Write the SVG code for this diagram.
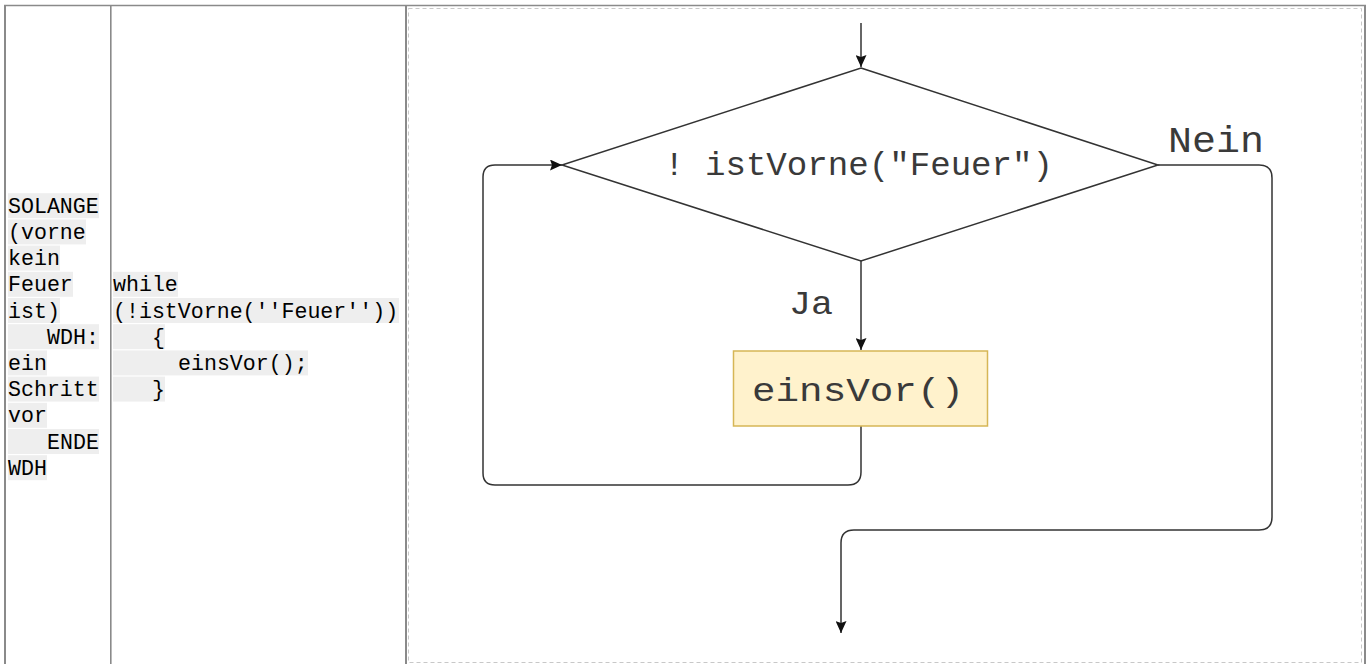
<svg xmlns="http://www.w3.org/2000/svg" width="1369" height="664" viewBox="0 0 1369 664">
<style>
.tbl{stroke:#8a8a8a;fill:none}
.hl{fill:#eeeeee}
.code{font-family:"Liberation Mono","DejaVu Sans Mono",monospace;font-size:21.6px;fill:#000}
.fc{font-family:"Liberation Mono","DejaVu Sans Mono",monospace;fill:#3a3a3a}
.edge{fill:none;stroke:#333;stroke-width:1.5}
</style>
<defs>
<marker id="arr" viewBox="0 0 12 11" refX="12" refY="5.5" markerWidth="12" markerHeight="11" markerUnits="userSpaceOnUse" orient="auto">
<path d="M0,0 L12,5.5 L0,11 L2,5.5 Z" fill="#111"/>
</marker>
</defs>
<rect width="1369" height="664" fill="#fff"/>
<g id="table">
<line class="tbl" x1="4" y1="5.5" x2="1366" y2="5.5" stroke-width="1.6"/>
<line class="tbl" x1="5" y1="5" x2="5" y2="664" stroke-width="2"/>
<line class="tbl" x1="110.8" y1="5" x2="110.8" y2="664" stroke-width="1.6"/>
<line class="tbl" x1="406" y1="5" x2="406" y2="664" stroke-width="2"/>
<line class="tbl" x1="1365" y1="5" x2="1365" y2="664" stroke-width="2"/>
<rect x="408.5" y="8.5" width="953" height="654" fill="none" stroke="#c8c8c8" stroke-width="1" stroke-dasharray="4 3"/>
</g>
<g id="pseudocode">
<rect class="hl" x="8" y="193.2" width="91" height="25"/>
<rect class="hl" x="8" y="219.4" width="78" height="25"/>
<rect class="hl" x="8" y="245.6" width="52" height="25"/>
<rect class="hl" x="8" y="271.8" width="65" height="25"/>
<rect class="hl" x="8" y="298" width="52" height="25"/>
<rect class="hl" x="8" y="324.2" width="91" height="25"/>
<rect class="hl" x="8" y="350.4" width="39" height="25"/>
<rect class="hl" x="8" y="376.6" width="91" height="25"/>
<rect class="hl" x="8" y="402.8" width="39" height="25"/>
<rect class="hl" x="8" y="429" width="91" height="25"/>
<rect class="hl" x="8" y="455.2" width="39" height="25"/>
<text class="code" x="8" y="212.7">SOLANGE</text>
<text class="code" x="8" y="238.9">(vorne</text>
<text class="code" x="8" y="265.1">kein</text>
<text class="code" x="8" y="291.3">Feuer</text>
<text class="code" x="8" y="317.5">ist)</text>
<text class="code" x="47" y="343.7">WDH:</text>
<text class="code" x="8" y="369.9">ein</text>
<text class="code" x="8" y="396.1">Schritt</text>
<text class="code" x="8" y="422.3">vor</text>
<text class="code" x="47" y="448.5">ENDE</text>
<text class="code" x="8" y="474.7">WDH</text>
</g>
<g id="javacode">
<rect class="hl" x="113" y="271.8" width="65" height="25"/>
<rect class="hl" x="113" y="298" width="286" height="25"/>
<rect class="hl" x="113" y="324.2" width="52" height="25"/>
<rect class="hl" x="113" y="350.4" width="195" height="25"/>
<rect class="hl" x="113" y="376.6" width="52" height="25"/>
<text class="code" x="113" y="291.3">while</text>
<text class="code" x="113" y="317.5">(!istVorne(''Feuer''))</text>
<text class="code" x="152" y="343.7">{</text>
<text class="code" x="178" y="369.9">einsVor();</text>
<text class="code" x="152" y="396.1">}</text>
</g>
<g id="connectors">
<path class="edge" d="M861,23 L861,67" marker-end="url(#arr)"/>
<path class="edge" d="M861,261 L861,350" marker-end="url(#arr)"/>
<path class="edge" d="M861,426 L861,472 Q861,485 848,485 L495,485 Q483,485 483,473 L483,177 Q483,165 495,165 L562,165" marker-end="url(#arr)"/>
<path class="edge" d="M1158,165 L1259,165 Q1272,165 1272,178 L1272,517 Q1272,530 1259,530 L854,530 Q841,530 841,543 L841,633" marker-end="url(#arr)"/>
<text class="fc" x="789" y="313.5" font-size="33" textLength="44" lengthAdjust="spacingAndGlyphs">Ja</text>
<text class="fc" x="1168" y="152" font-size="36" textLength="96" lengthAdjust="spacingAndGlyphs">Nein</text>
</g>
<g id="decision">
<polygon points="861,68 1158,165 861,261 562,165" fill="#fff" stroke="#333" stroke-width="1.5"/>
<text class="fc" x="664" y="175" font-size="33" textLength="389" lengthAdjust="spacingAndGlyphs">! istVorne("Feuer")</text>
</g>
<g id="action">
<rect x="733.5" y="351" width="254" height="75" fill="#fff2cc" stroke="#d6b656" stroke-width="1.5"/>
<text class="fc" x="752" y="401" font-size="34" textLength="212" lengthAdjust="spacingAndGlyphs">einsVor()</text>
</g>
</svg>
